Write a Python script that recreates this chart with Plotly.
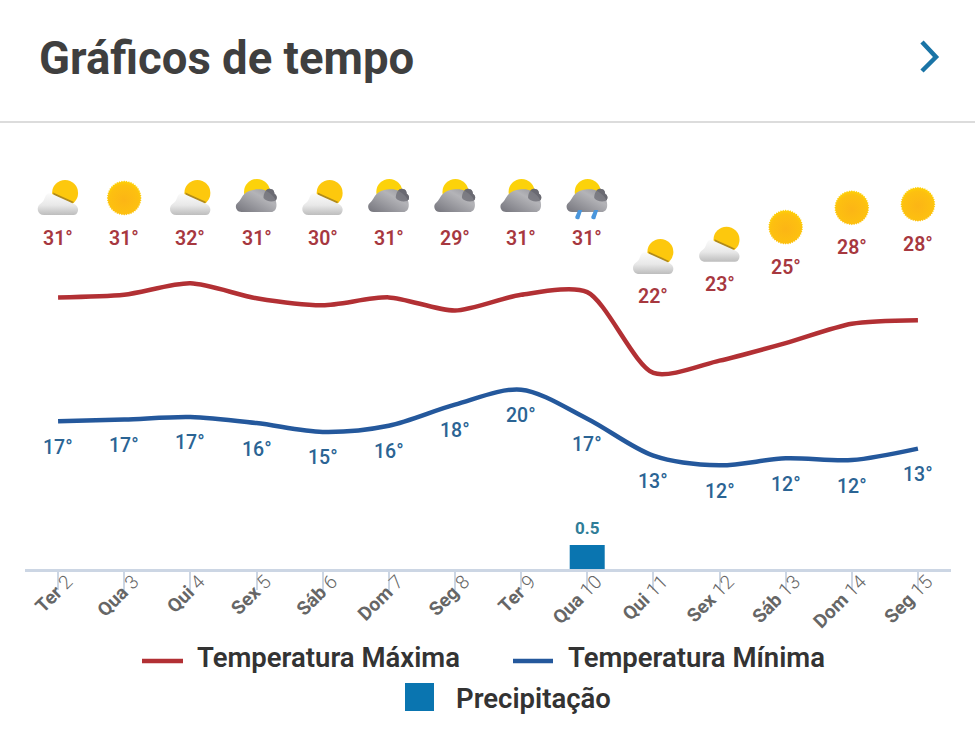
import base64
import math
import plotly.graph_objects as go

days = [2, 3, 4, 5, 6, 7, 8, 9, 10, 11, 12, 13, 14, 15]
weekdays = ["Ter", "Qua", "Qui", "Sex", "Sáb", "Dom", "Seg", "Ter", "Qua", "Qui", "Sex", "Sáb", "Dom", "Seg"]

max_labels = [31, 31, 32, 31, 30, 31, 29, 31, 31, 22, 23, 25, 28, 28]
min_labels = [17, 17, 17, 16, 15, 16, 18, 20, 17, 13, 12, 12, 12, 13]
max_curve = [30.9, 31.2, 32.5, 30.8, 30.0, 30.9, 29.4, 31.2, 31.5, 22.3, 23.7, 25.7, 27.9, 28.3]
min_curve = [16.8, 17.0, 17.3, 16.6, 15.6, 16.3, 18.7, 20.4, 17.1, 12.9, 11.8, 12.6, 12.4, 13.7]
precip = [None, None, None, None, None, None, None, None, 0.5, None, None, None, None, None]
sky = ["partly", "sun", "partly", "cloudy", "partly", "cloudy", "cloudy",
       "cloudy", "rain", "partly", "partly", "sun", "sun", "sun"]

RED = "#b23034"
RED_TEXT = "#a7383f"
BLUE = "#24589c"
BLUE_TEXT = "#2b6494"
RAIN = "#0a75b0"
GREY_LINE = "#ccd6e4"
FONT = "Roboto"

W, H = 975, 750
PLOT_LEFT, PLOT_RIGHT, PLOT_TOP, PLOT_BOTTOM = 25, 951, 130, 569
PX_PER_DEG = 8.79
PX_PER_DAY = (PLOT_RIGHT - PLOT_LEFT) / 14
LABEL_TOP = 238  # max labels and icons stop climbing here


def px(x):
    return x / W


def py(y):
    return 1 - y / H


def sun_path(cx, cy, r_in, r_out, teeth=44):
    pts = []
    for i in range(teeth * 2):
        r = r_out if i % 2 == 0 else r_in
        a = math.pi * i / teeth
        pts.append(f"{cx + r * math.cos(a):.2f},{cy + r * math.sin(a):.2f}")
    return "M" + " L".join(pts) + "Z"


LIGHT_CLOUD = "M10 41C3 41 2 33 6 30C9 28 10 26 11 23C12 20 15 18 18 20C25 23 33 27 40 30C44 32 45 36 43 39C42 41 40 41 38 41Z"
DARK_CLOUD = "M9 38C3 38 2 31 5 29C8 27 9 22 13 19C17 15 30 14 34 17C39 20 44 24 44 31C44 36 41 38 39 38Z"
BACK_CLOUD = "M31 24C31 19 34 14 38 15C41 15 42 18 42 20C45 21 45 26 42 27C38 28 33 27 31 24Z"

DEFS = """<defs>
<radialGradient id="s" cx="0.5" cy="0.55" r="0.6"><stop offset="0" stop-color="#fcb515"/><stop offset="0.7" stop-color="#fdc010"/><stop offset="1" stop-color="#ffdc00"/></radialGradient>
<linearGradient id="l" x1="0" y1="0" x2="0" y2="1"><stop offset="0" stop-color="#fbfbfb"/><stop offset="0.55" stop-color="#e8e8e8"/><stop offset="1" stop-color="#bdbdbd"/></linearGradient>
<linearGradient id="d" x1="0" y1="1" x2="1" y2="0"><stop offset="0" stop-color="#74747c"/><stop offset="0.65" stop-color="#b4b4b8"/><stop offset="1" stop-color="#8f8f96"/></linearGradient>
<clipPath id="c"><circle cx="31" cy="19" r="13"/></clipPath>
</defs>"""


def icon_svg(kind):
    if kind == "sun":
        body = f'<path d="{sun_path(24, 24, 16.2, 17.5)}" fill="url(#s)"/>'
    elif kind == "partly":
        body = (
            '<circle cx="31" cy="19" r="13" fill="#fdc80d"/>'
            f'<path d="{LIGHT_CLOUD}" transform="translate(1 -1.5)" fill="#b08a1c" clip-path="url(#c)"/>'
            f'<path d="{LIGHT_CLOUD}" fill="url(#l)"/>'
        )
    else:
        body = (
            '<circle cx="24.5" cy="18" r="13" fill="#fcd20a"/>'
            f'<path d="{BACK_CLOUD}" fill="#66666e"/>'
            f'<path d="{DARK_CLOUD}" fill="url(#d)"/>'
            f'<path d="{BACK_CLOUD}" fill="#6c6c74" opacity="0.75"/>'
        )
        if kind == "rain":
            body += (
                '<path d="M15 36L19 36L16 45Q12 46 12 43Z" fill="#4a96dc"/>'
                '<path d="M31 36L35 36L32 45Q28 46 28 43Z" fill="#4a96dc"/>'
            )
    svg = f'<svg xmlns="http://www.w3.org/2000/svg" viewBox="0 0 48 48" width="48" height="48">{DEFS}{body}</svg>'
    return "data:image/svg+xml;base64," + base64.b64encode(svg.encode()).decode()


fig = go.Figure()

fig.add_trace(go.Scatter(x=days, y=max_curve, mode="lines", name="Temperatura Máxima",
                         line=dict(color=RED, width=4.5, shape="spline", smoothing=0.75)))
fig.add_trace(go.Scatter(x=days, y=min_curve, mode="lines", name="Temperatura Mínima",
                         line=dict(color=BLUE, width=4.5, shape="spline", smoothing=0.9)))
fig.add_trace(go.Bar(x=days, y=precip, name="Precipitação", yaxis="y2", width=35 / PX_PER_DAY,
                     marker=dict(color=RAIN, line=dict(width=0))))

annotations = []
images = []
max_y_limit = (PLOT_BOTTOM - LABEL_TOP) / PX_PER_DEG
for d, curve, label, kind in zip(days, max_curve, max_labels, sky):
    label_y = min(curve + 76 / PX_PER_DEG, max_y_limit)
    annotations.append(dict(x=d, y=label_y, xref="x", yref="y", text=f"{label}°", showarrow=False,
                            font=dict(family=FONT, size=19.5, color=RED_TEXT, weight=600)))
    images.append(dict(source=icon_svg(kind), xref="x", yref="y", x=d, y=label_y + 40 / PX_PER_DEG,
                       sizex=48 / PX_PER_DAY, sizey=48 / PX_PER_DEG,
                       xanchor="center", yanchor="middle", sizing="contain", layer="above"))

for d, curve, label in zip(days, min_curve, min_labels):
    annotations.append(dict(x=d, y=curve, xref="x", yref="y", yshift=-26, text=f"{label}°", showarrow=False,
                            font=dict(family=FONT, size=19.5, color=BLUE_TEXT, weight=500)))

for d, p in zip(days, precip):
    if p is not None:
        annotations.append(dict(x=d, y=p, xref="x", yref="y2", yshift=5, yanchor="bottom", text=str(p),
                                showarrow=False, font=dict(family=FONT, size=17, color="#2f7d98", weight=700)))

# header and the hand placed legend
annotations.append(dict(x=px(37), y=py(58), xref="paper", yref="paper", xanchor="left", yanchor="middle",
                        text="Gráficos de tempo", showarrow=False,
                        font=dict(family=FONT, size=45.5, color="#3f3f3f", weight=700)))
legend_font = dict(family=FONT, size=27.5, color="#333333", weight=600)
for x, y, name in [(195, 657, "Temperatura Máxima"), (566, 657, "Temperatura Mínima"), (454, 698, "Precipitação")]:
    annotations.append(dict(x=px(x), y=py(y), xref="paper", yref="paper", xanchor="left", yanchor="middle",
                            text=name, showarrow=False, font=legend_font))

shapes = [
    dict(type="line", xref="paper", yref="paper", x0=0, x1=1, y0=py(122), y1=py(122),
         line=dict(color="#dcdcdc", width=2)),
    dict(type="path", xref="paper", yref="paper",
         path=f"M{px(922)},{py(42)} L{px(936)},{py(57)} L{px(922)},{py(71)}",
         line=dict(color="#1a74a6", width=4.5)),
    dict(type="line", xref="paper", yref="paper", x0=px(142), x1=px(183), y0=py(661), y1=py(661),
         line=dict(color=RED, width=4.5)),
    dict(type="line", xref="paper", yref="paper", x0=px(513), x1=px(553), y0=py(661), y1=py(661),
         line=dict(color=BLUE, width=4.5)),
    dict(type="rect", xref="paper", yref="paper", x0=px(405), x1=px(434), y0=py(683), y1=py(711),
         fillcolor=RAIN, line=dict(width=0)),
]

plot_h = PLOT_BOTTOM - PLOT_TOP
fig.update_layout(
    width=W, height=H,
    margin=dict(l=0, r=0, t=0, b=0),
    paper_bgcolor="white", plot_bgcolor="white",
    showlegend=False,
    annotations=annotations, images=images, shapes=shapes,
    xaxis=dict(domain=[px(PLOT_LEFT), px(PLOT_RIGHT)], range=[1.5, 15.5],
               tickmode="array", tickvals=days,
               ticktext=[f"<b>{w}</b> {d}" for w, d in zip(weekdays, days)],
               tickangle=-45, ticks="outside", ticklen=18, tickwidth=2, tickcolor=GREY_LINE,
               ticklabelshift=9, ticklabelstandoff=-27,
               showline=True, linecolor=GREY_LINE, linewidth=3, showgrid=False, zeroline=False,
               tickfont=dict(family=FONT, size=19, color="#666666", weight=300)),
    yaxis=dict(domain=[py(PLOT_BOTTOM), py(PLOT_TOP)], range=[0, plot_h / PX_PER_DEG], visible=False),
    yaxis2=dict(overlaying="y", range=[0, 0.5 * plot_h / 24], visible=False),
)

fig.write_html("out.html", config=dict(displayModeBar=False),
               post_script="document.body.style.margin='0';document.body.style.overflow='hidden';")
